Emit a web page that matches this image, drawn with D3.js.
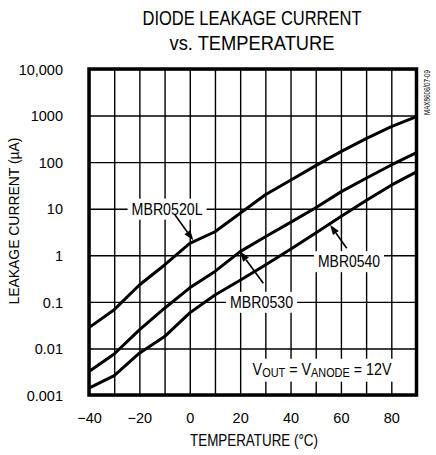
<!DOCTYPE html>
<html><head><meta charset="utf-8">
<script src="https://cdn.jsdelivr.net/npm/d3@7"></script>
<style>html,body{margin:0;padding:0;background:#fff;} svg{display:block;}</style>
</head><body>
<svg id="c" width="436" height="455"></svg>
<script>
// ---------- data ----------
const temperatures = [-40, -30, -20, -10, 0, 10, 20, 30, 40, 50, 60, 70, 80, 90];
const mbr0520L = [0.028, 0.068, 0.23, 0.62, 1.8, 3.2, 8, 20, 41, 84, 168, 320, 580, 950];
const mbr0530  = [0.0032, 0.0076, 0.025, 0.073, 0.2, 0.45, 1.2, 2.5, 5.1, 10.5, 23, 45, 87, 160];
const mbr0540  = [0.0014, 0.0026, 0.0079, 0.018, 0.058, 0.14, 0.29, 0.62, 1.35, 3.0, 6.8, 15, 32, 62];
const seriesNames = ["MBR0520L", "MBR0530", "MBR0540"];
const yTickValues = [0.001, 0.01, 0.1, 1, 10, 100, 1000, 10000];
const yTickLabels = ["0.001", "0.01", "0.1", "1", "10", "100", "1000", "10,000"];
const xTickValues = [-40, -20, 0, 20, 40, 60, 80];
const xGridValues = [-40, -30, -20, -10, 0, 10, 20, 30, 40, 50, 60, 70, 80, 90];
const titleLines = ["DIODE LEAKAGE CURRENT", "vs. TEMPERATURE"];
const xAxisTitle = "TEMPERATURE (°C)";
const yAxisTitle = "LEAKAGE CURRENT (µA)";
const figureId = "MAX8606/07-09";
// annotation anchors in data units [temperature, current]
const labelAnchors = [[-9, 10], [28.5, 0.1], [63.2, 1]];
const arrowTails = [[-5.9, 7.4], [29.2, 0.25], [62.3, 1.42]];
const arrowTips = [[1.4, 2.1], [20, 1.2], [55.7, 4.5]];
const conditionAnchor = [52.5, 0.0027];

// ---------- layout ----------
const L = 89, R = 416.5, T = 69, B = 395;
const narrow = "'Liberation Sans Narrow','Liberation Sans',Arial,sans-serif";
const regular = "'Liberation Sans',Arial,sans-serif";

const svg = d3.select("#c");
const x = d3.scaleLinear().domain([-40, 90]).range([L, R]);
const y = d3.scaleLog().domain([0.001, 10000]).range([B, T]);

// grid
svg.append("g").attr("transform", `translate(0,${B})`)
  .call(d3.axisBottom(x).tickValues(xGridValues).tickSize(-(B - T)).tickFormat(""))
  .call(g => g.select(".domain").remove())
  .call(g => g.selectAll("line").attr("stroke", "#000").attr("stroke-width", 1.4));
svg.append("g").attr("transform", `translate(${L},0)`)
  .call(d3.axisLeft(y).tickValues(yTickValues).tickSize(-(R - L)).tickFormat(""))
  .call(g => g.select(".domain").remove())
  .call(g => g.selectAll("line").attr("stroke", "#000").attr("stroke-width", 1.4));

// tick labels
svg.append("g").attr("transform", `translate(${L},0)`)
  .call(d3.axisLeft(y).tickValues(yTickValues).tickSize(0).tickPadding(26)
    .tickFormat((d, i) => yTickLabels[i]))
  .call(g => g.select(".domain").remove())
  .call(g => g.selectAll("text").attr("font-family", regular).attr("font-size", 14.5)
    .attr("fill", "#000").attr("dy", "0.36em"));
svg.append("g").attr("transform", `translate(0,${B})`)
  .call(d3.axisBottom(x).tickValues(xTickValues).tickSize(0).tickPadding(17.5))
  .call(g => g.select(".domain").remove())
  .call(g => g.selectAll("text").attr("font-family", regular).attr("font-size", 14.5)
    .attr("fill", "#000"));

// label backgrounds + labels
const seriesData = [mbr0520L, mbr0530, mbr0540];
const labelG = svg.append("g");
const labelTexts = labelG.selectAll("text").data(seriesNames).join("text")
  .attr("x", (d, i) => x(labelAnchors[i][0]))
  .attr("y", (d, i) => y(labelAnchors[i][1]))
  .attr("dy", (d, i) => i === 2 ? "0.72em" : "0.36em")
  .attr("text-anchor", "middle")
  .attr("font-family", narrow).attr("font-size", 16.5)
  .attr("textLength", (d, i) => [71, 63, 62][i]).attr("lengthAdjust", "spacingAndGlyphs")
  .text(d => d);
labelTexts.each(function () {
  const b = this.getBBox();
  labelG.insert("rect", "text").attr("x", b.x - 4).attr("y", b.y - 1)
    .attr("width", b.width + 8).attr("height", b.height + 3).attr("fill", "#fff");
});

// condition text (horizontally condensed)
const condG = svg.append("g")
  .attr("transform", `translate(${x(conditionAnchor[0])},${y(conditionAnchor[1])}) scale(0.84,1)`);
const cond = condG.append("text")
  .attr("text-anchor", "middle").attr("font-family", narrow).attr("font-size", 17);
cond.append("tspan").text("V");
cond.append("tspan").attr("font-size", 13).attr("dy", 2.5).text("OUT");
cond.append("tspan").attr("dy", -2.5).text(" = V");
cond.append("tspan").attr("font-size", 13).attr("dy", 2.5).text("ANODE");
cond.append("tspan").attr("dy", -2.5).text(" = 12V");
{
  const b = cond.node().getBBox();
  condG.insert("rect", "text").attr("x", b.x - 6).attr("y", b.y - 1)
    .attr("width", b.width + 12).attr("height", b.height + 2).attr("fill", "#fff");
}

// curves
const line = d3.line().x((d, i) => x(temperatures[i])).y(d => y(d));
svg.append("g").selectAll("path").data(seriesData).join("path")
  .attr("d", d => line(d)).attr("fill", "none").attr("stroke", "#000")
  .attr("stroke-width", 3).attr("stroke-linejoin", "round");

// arrows
const arrowG = svg.append("g");
arrowTails.forEach((t, i) => {
  const x1 = x(t[0]), y1 = y(t[1]), x2 = x(arrowTips[i][0]), y2 = y(arrowTips[i][1]);
  const ang = Math.atan2(y2 - y1, x2 - x1);
  const hl = 10, hw = 3.6;
  const bx = x2 - hl * Math.cos(ang), by = y2 - hl * Math.sin(ang);
  arrowG.append("line").attr("x1", x1).attr("y1", y1).attr("x2", bx).attr("y2", by)
    .attr("stroke", "#000").attr("stroke-width", 1.6);
  arrowG.append("path").attr("fill", "#000")
    .attr("d", `M${x2},${y2}L${bx + hw * Math.sin(ang)},${by - hw * Math.cos(ang)}L${bx - hw * Math.sin(ang)},${by + hw * Math.cos(ang)}Z`);
});

// frame
svg.append("rect").attr("x", L).attr("y", T).attr("width", R - L).attr("height", B - T)
  .attr("fill", "none").attr("stroke", "#000").attr("stroke-width", 3.5);

// titles
svg.append("g").selectAll("text").data(titleLines).join("text")
  .attr("x", 252).attr("y", (d, i) => 25 + i * 25)
  .attr("text-anchor", "middle").attr("font-family", narrow).attr("font-size", 21)
  .attr("textLength", (d, i) => [219, 165][i]).attr("lengthAdjust", "spacingAndGlyphs")
  .text(d => d);
svg.append("text").attr("x", 254).attr("y", 446)
  .attr("text-anchor", "middle").attr("font-family", narrow).attr("font-size", 17)
  .attr("textLength", 128).attr("lengthAdjust", "spacingAndGlyphs").text(xAxisTitle);
svg.append("text").attr("transform", "translate(19,221) rotate(-90)")
  .attr("text-anchor", "middle").attr("font-family", narrow).attr("font-size", 15)
  .attr("textLength", 167).attr("lengthAdjust", "spacingAndGlyphs").text(yAxisTitle);
svg.append("text").attr("transform", "translate(430,115) rotate(-90)")
  .attr("font-family", narrow).attr("font-size", 9.5)
  .attr("textLength", 45).attr("lengthAdjust", "spacingAndGlyphs").text(figureId);
</script>
</body></html>
